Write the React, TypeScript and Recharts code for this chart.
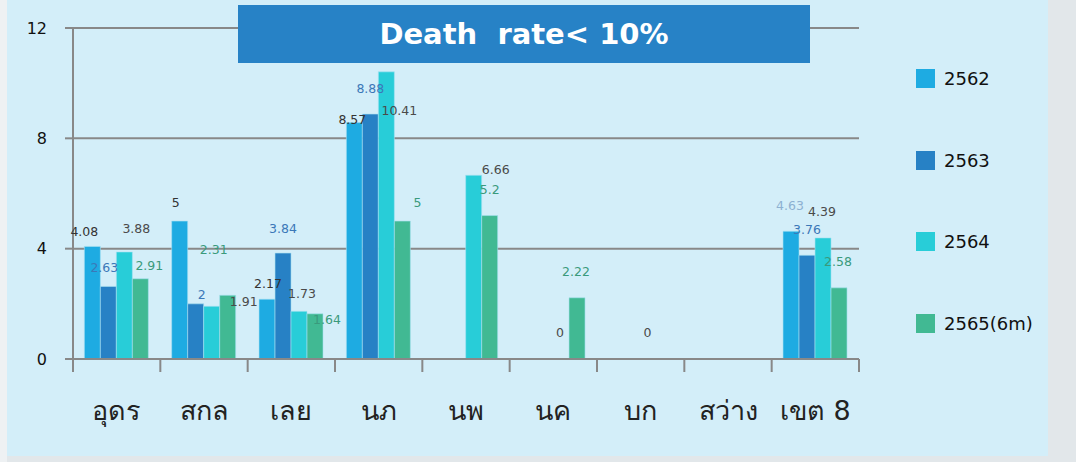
import React from 'react';
import { BarChart, Bar, XAxis, YAxis, CartesianGrid, LabelList } from 'recharts';

// categories (health districts) and yearly death rates
const districts = ['อุดร', 'สกล', 'เลย', 'นภ', 'นพ', 'นค', 'บก', 'สว่าง', 'เขต 8'];
const rate2562 = [4.08, 5, 2.17, 8.57, null, null, null, null, 4.63];
const rate2563 = [2.63, 2, 3.84, 8.88, null, null, null, null, 3.76];
const rate2564 = [3.88, 1.91, 1.73, 10.41, 6.66, 0, 0, null, 4.39];
const rate2565 = [2.91, 2.31, 1.64, 5, 5.2, 2.22, null, null, 2.58];
const yTicks = [0, 4, 8, 12];

const series = [
  { key: 'y2562', name: '2562', values: rate2562, color: '#1eabe2', labelColor: '#333333' },
  { key: 'y2563', name: '2563', values: rate2563, color: '#2781c5', labelColor: '#3b78b8' },
  { key: 'y2564', name: '2564', values: rate2564, color: '#28cdd8', labelColor: '#4a4a4a' },
  { key: 'y2565', name: '2565(6m)', values: rate2565, color: '#41b993', labelColor: '#3a9a7c' },
];

// hand-placed label offsets (dx, dy from bar top centre), like the excel original
const labelOffsets: Record<string, [number, number][]> = {
  y2562: [[-8, -15], [-4, -19], [1, -16], [-2, -3], [0, 0], [0, 0], [0, 0], [0, 0], [-1, -26]],
  y2563: [[-4, -19], [6, -9], [0, -25], [0, -26], [0, 0], [0, 0], [0, 0], [0, 0], [0, -26]],
  y2564: [[12, -23], [32, -5], [3, -18], [13, 39], [22, -6], [-1, -26], [-1, -26], [0, 0], [-1, -26]],
  y2565: [[9, -13], [-14, -46], [12, 6], [15, -19], [0, -26], [-1, -26], [0, 0], [0, 0], [-1, -26]],
};

const data = districts.map((d, i) => {
  const row: any = { name: d };
  series.forEach((s) => (row[s.key] = s.values[i]));
  return row;
});

const FONT = "Tahoma, 'DejaVu Sans', 'Noto Sans', sans-serif";
const PLOT_LEFT = 73;
const PLOT_RIGHT = 859;
const BAND = (PLOT_RIGHT - PLOT_LEFT) / districts.length;

const makeLabel = (s: typeof series[number]) => (props: any) => {
  const { x, y, width, value } = props;
  if (value === null || value === undefined) return null;
  const cat = Math.floor((x + width / 2 - PLOT_LEFT) / BAND);
  const [dx, dy] = labelOffsets[s.key][cat] || [0, 0];
  const color = s.key === 'y2562' && cat === 8 ? '#8db1d2' : s.labelColor;
  return (
    <text
      x={x + width / 2 + dx}
      y={y + dy}
      textAnchor="middle"
      dominantBaseline="central"
      fontSize={12.5}
      fontFamily={FONT}
      fill={color}
    >
      {value}
    </text>
  );
};

const XTick = (props: any) => {
  const { x, y, payload, index } = props;
  const left = x - BAND / 2;
  return (
    <g>
      <line x1={left} x2={left} y1={y - 8} y2={y + 5} stroke="#888" strokeWidth={2} />
      {index === districts.length - 1 && (
        <line x1={x + BAND / 2} x2={x + BAND / 2} y1={y - 8} y2={y + 5} stroke="#888" strokeWidth={2} />
      )}
      <text x={x} y={y + 53} textAnchor="middle" fontSize={27} fontFamily={FONT} fill="#222">
        {payload.value}
      </text>
    </g>
  );
};

export default function App() {
  return (
    <div style={{ position: 'absolute', left: 0, top: 0, width: 1076, height: 462, background: '#e2e7ea', overflow: 'hidden' }}>
      <div style={{ position: 'absolute', left: 0, top: 0, width: 7, height: 462, background: '#eef1f3' }} />
      <div style={{ position: 'absolute', left: 7, top: 0, width: 1041, height: 456, background: '#d3eef9' }} />
      <div style={{ position: 'absolute', left: 0, top: 0 }}>
        <BarChart
          width={1076}
          height={462}
          data={data}
          margin={{ top: 28, right: 1076 - PLOT_RIGHT, left: 0, bottom: 43 }}
          barCategoryGap="13%"
          barGap={0}
        >
          <CartesianGrid horizontal vertical={false} stroke="#888888" strokeWidth={2} />
          <XAxis
            dataKey="name"
            height={60}
            axisLine={{ stroke: '#888888', strokeWidth: 2 }}
            tickLine={false}
            tick={<XTick />}
            interval={0}
          />
          <YAxis
            width={PLOT_LEFT}
            domain={[0, 12]}
            ticks={yTicks}
            axisLine={{ stroke: '#888888', strokeWidth: 2 }}
            tickLine={{ stroke: '#888888', strokeWidth: 2 }}
            tickSize={8}
            tickMargin={18}
            tick={{ fontSize: 16, fill: '#111', fontFamily: FONT }}
          />
          {series.map((s) => (
            <Bar
              key={s.key}
              dataKey={s.key}
              name={s.name}
              fill={s.color}
              stroke="#a8e0f2"
              strokeWidth={0.6}
              minPointSize={(v: any) => (v === 0 ? 0.3 : 0)}
              isAnimationActive={false}
            >
              <LabelList dataKey={s.key} content={makeLabel(s)} />
            </Bar>
          ))}
        </BarChart>
      </div>
      <div
        style={{
          position: 'absolute', left: 238, top: 5, width: 572, height: 58, background: '#2782c6',
          color: '#fff', fontFamily: FONT, fontWeight: 'bold', fontSize: 29,
          display: 'flex', alignItems: 'center', justifyContent: 'center', whiteSpace: 'pre',
        }}
      >
        {'Death  rate< 10%'}
      </div>
      <div style={{ position: 'absolute', left: 916, top: 0, fontFamily: FONT }}>
        {series.map((s, i) => (
          <div key={s.key} style={{ position: 'absolute', top: 68 + i * 81.5, left: 0, display: 'flex', alignItems: 'center', whiteSpace: 'nowrap' }}>
            <span style={{ width: 19, height: 19, background: s.color, display: 'inline-block' }} />
            <span style={{ marginLeft: 9, fontSize: 18, color: '#111' }}>{s.name}</span>
          </div>
        ))}
      </div>
    </div>
  );
}
